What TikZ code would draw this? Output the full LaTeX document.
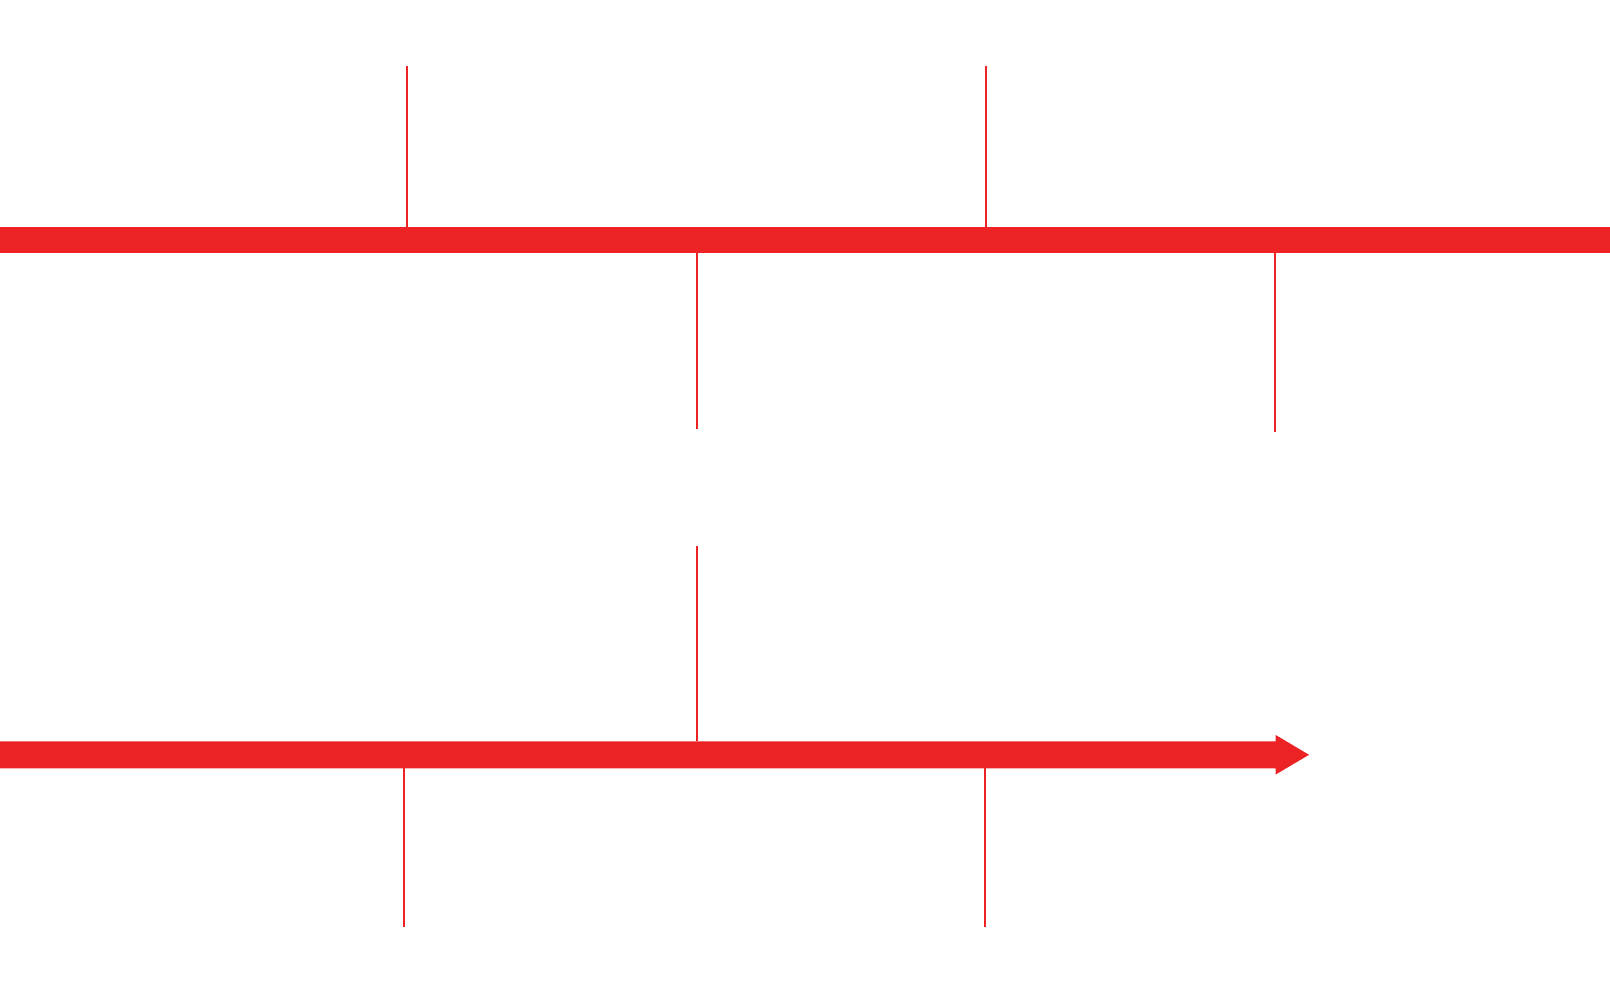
\documentclass[tikz,border=0pt]{standalone}
\definecolor{barred}{RGB}{237,34,36}
\begin{document}
\begin{tikzpicture}[x=0.5pt,y=-0.5pt,
  tick/.style={draw=barred,line width=1pt},
  bar/.style={fill=barred}]
\useasboundingbox (0,0) rectangle (1610,1004);
% top bar
\fill[bar] (0,227) rectangle (1610,253.5);
\draw[tick] (407,66) -- (407,227);
\draw[tick] (985.7,66) -- (985.7,227);
\draw[tick] (697.2,253.5) -- (697.2,429);
\draw[tick] (1275.3,253.5) -- (1275.3,432.5);
% bottom bar with arrow head
\fill[bar] (0,741.3) -- (1275.7,741.3) -- (1275.7,735) -- (1309,754.8)
  -- (1275.7,774.5) -- (1275.7,768.3) -- (0,768.3) -- cycle;
\draw[tick] (697.2,546) -- (697.2,741.3);
\draw[tick] (403.7,768.3) -- (403.7,927);
\draw[tick] (984.7,768.3) -- (984.7,926.5);
\end{tikzpicture}
\end{document}
